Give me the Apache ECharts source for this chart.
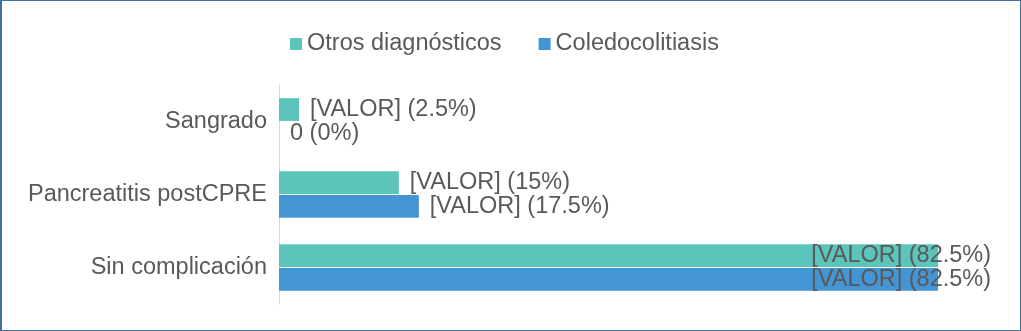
<!DOCTYPE html>
<html><head><meta charset="utf-8">
<script src="https://cdn.jsdelivr.net/npm/echarts@6/dist/echarts.min.js"></script>
<style>
html,body{margin:0;padding:0;background:#fff;}
#c{width:1021px;height:331px;box-sizing:border-box;border:1px solid #41719C;border-left-width:2px;}
</style></head><body>
<div id="c"></div>
<script>
const categories = ['Sangrado', 'Pancreatitis postCPRE', 'Sin complicación'];
const otrosValues = [2.5, 15, 82.5];
const coledoValues = [0, 17.5, 82.5];
const seriesNames = ['Otros diagnósticos', 'Coledocolitiasis'];

const font = 'Liberation Sans, Arial, sans-serif';
const txt = '#595959';
const fs = 23.5;

function fmt(p) {
  return p.value === 0 ? '0 (0%)' : '[VALOR] (' + p.value + '%)';
}
function mkData(vals) {
  return vals.map(v => v > 80
    ? { value: v, label: { position: 'insideRight', offset: [64, 0] } }
    : v);
}
const chart = echarts.init(document.getElementById('c'));
chart.setOption({
  animation: false,
  textStyle: { fontFamily: font },
  legend: {
    data: seriesNames,
    top: 26, left: 283,
    icon: 'rect', itemWidth: 12, itemHeight: 12, itemGap: 37,
    textStyle: { fontFamily: font, fontSize: fs, color: txt }
  },
  grid: { left: 277, right: 22, top: 84, bottom: 26, containLabel: false },
  xAxis: {
    type: 'value', min: 0, max: 90,
    axisLabel: { show: false }, splitLine: { show: false },
    axisLine: { show: false }, axisTick: { show: false }
  },
  yAxis: {
    type: 'category', data: categories, inverse: true,
    axisLine: { show: true, lineStyle: { color: '#D9D9D9', width: 1 } },
    axisTick: { show: false },
    axisLabel: { fontFamily: font, fontSize: fs, color: txt, margin: 12 }
  },
  series: [
    {
      name: seriesNames[0], type: 'bar', data: mkData(otrosValues),
      itemStyle: { color: '#5BC4BB' },
      barCategoryGap: '36%', barGap: '5%',
      label: { show: true, position: 'right', distance: 11, formatter: fmt,
        fontFamily: font, fontSize: fs, color: txt }
    },
    {
      name: seriesNames[1], type: 'bar', data: mkData(coledoValues),
      itemStyle: { color: '#4495D4' },
      barCategoryGap: '36%', barGap: '5%',
      label: { show: true, position: 'right', distance: 11, formatter: fmt,
        fontFamily: font, fontSize: fs, color: txt }
    }
  ]
});
</script>
</body></html>
